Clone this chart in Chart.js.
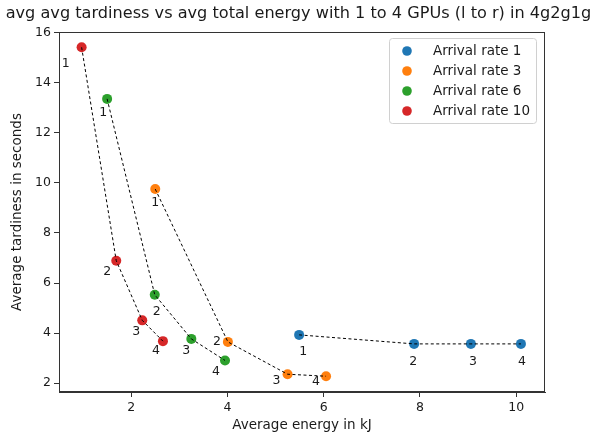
<!DOCTYPE html>
<html>
<head>
<meta charset="utf-8">
<script src="https://cdn.jsdelivr.net/npm/chart.js@4/dist/chart.umd.min.js"></script>
<style>
html,body{margin:0;padding:0;background:#fff;}
#wrap{width:597px;height:435px;position:relative;}
</style>
</head>
<body>
<div id="wrap"><canvas id="c" width="597" height="435"></canvas></div>
<script>
// ---- data ----
const chartTitle = 'avg avg tardiness vs avg total energy with 1 to 4 GPUs (l to r) in 4g2g1g';
const gpuCounts = ['1', '2', '3', '4'];
const seriesNames = ['Arrival rate 1', 'Arrival rate 3', 'Arrival rate 6', 'Arrival rate 10'];
const energyRate1  = [5.49, 7.88, 9.06, 10.10];
const tardRate1    = [3.93, 3.57, 3.57, 3.57];
const energyRate3  = [2.50, 4.01, 5.25, 6.05];
const tardRate3    = [9.75, 3.65, 2.36, 2.28];
const energyRate6  = [1.50, 2.49, 3.25, 3.95];
const tardRate6    = [13.35, 5.53, 3.77, 2.91];
const energyRate10 = [0.97, 1.69, 2.23, 2.66];
const tardRate10   = [15.41, 6.89, 4.51, 3.68];
const xTickValues = [2, 4, 6, 8, 10];
const yTickValues = [2, 4, 6, 8, 10, 12, 14, 16];

// ---- styles ----
const colors = ['#1f77b4', '#ff7f0e', '#2ca02c', '#d62728'];
// label offsets in pixels (dx, dy) relative to each point
const labelOffsets = [
  [[4, 17], [-1, 18], [2, 18], [1, 18]],
  [[0, 14], [-11, 0], [-11, 7], [-10, 6]],
  [[-4, 14], [2, 17], [-5, 12], [-9, 11]],
  [[-16, 16], [-9, 11], [-6, 11], [-7, 10]]
];

const energies = [energyRate1, energyRate3, energyRate6, energyRate10];
const tards = [tardRate1, tardRate3, tardRate6, tardRate10];
const toPts = (xs, ys) => xs.map((x, i) => ({x: x, y: ys[i]}));

const datasets = [];
seriesNames.forEach((name, s) => {
  datasets.push({
    label: name,
    data: toPts(energies[s], tards[s]),
    showLine: false,
    pointRadius: 5,
    pointHoverRadius: 5,
    pointBorderWidth: 0,
    backgroundColor: colors[s],
    borderColor: colors[s],
    order: 2
  });
});
seriesNames.forEach((name, s) => {
  datasets.push({
    label: '_line' + s,
    data: toPts(energies[s], tards[s]),
    showLine: true,
    pointRadius: 0,
    pointHoverRadius: 0,
    borderColor: '#000',
    borderWidth: 1,
    borderDash: [3, 2.5],
    fill: false,
    order: 1
  });
});

const FONT = "'DejaVu Sans', sans-serif";
const TXT = '#1a1a1a';

const framePlugin = {
  id: 'frame',
  afterDraw(chart) {
    const ctx = chart.ctx, a = chart.chartArea;
    ctx.save();
    ctx.strokeStyle = '#333';
    ctx.lineWidth = 1;
    ctx.strokeRect(Math.round(a.left) + 0.5, Math.round(a.top) + 0.5,
                   Math.round(a.right - a.left) - 1, Math.round(a.bottom - a.top) - 1);
    // title: sized to span the same width as the reference
    ctx.font = '16px ' + FONT;
    const w16 = ctx.measureText(chartTitle).width;
    const size = Math.min(17, 16 * 586 / w16);
    ctx.font = size.toFixed(2) + 'px ' + FONT;
    ctx.fillStyle = TXT;
    ctx.textAlign = 'center';
    ctx.textBaseline = 'middle';
    ctx.fillText(chartTitle, 298.5, 14);
    ctx.restore();
  }
};

const annotPlugin = {
  id: 'annot',
  afterDatasetsDraw(chart) {
    const ctx = chart.ctx;
    const xs = chart.scales.x, ys = chart.scales.y;
    ctx.save();
    ctx.font = '12.5px ' + FONT;
    ctx.fillStyle = TXT;
    ctx.textAlign = 'center';
    ctx.textBaseline = 'middle';
    seriesNames.forEach((n, s) => {
      energies[s].forEach((e, i) => {
        const px = xs.getPixelForValue(e) + labelOffsets[s][i][0];
        const py = ys.getPixelForValue(tards[s][i]) + labelOffsets[s][i][1];
        ctx.fillText(gpuCounts[i], px, py);
      });
    });
    ctx.restore();
  }
};

const legendPlugin = {
  id: 'mylegend',
  afterDraw(chart) {
    const ctx = chart.ctx;
    const a = chart.chartArea;
    const bx = a.right - 156, by = a.top + 6, bw = 147, bh = 85;
    ctx.save();
    ctx.fillStyle = 'rgba(255,255,255,0.8)';
    ctx.strokeStyle = '#d0d0d0';
    ctx.lineWidth = 1;
    const r = 3;
    ctx.beginPath();
    ctx.moveTo(bx + r + 0.5, by + 0.5);
    ctx.arcTo(bx + bw + 0.5, by + 0.5, bx + bw + 0.5, by + bh + 0.5, r);
    ctx.arcTo(bx + bw + 0.5, by + bh + 0.5, bx + 0.5, by + bh + 0.5, r);
    ctx.arcTo(bx + 0.5, by + bh + 0.5, bx + 0.5, by + 0.5, r);
    ctx.arcTo(bx + 0.5, by + 0.5, bx + bw + 0.5, by + 0.5, r);
    ctx.closePath();
    ctx.fill();
    ctx.stroke();
    ctx.font = '13.5px ' + FONT;
    ctx.textBaseline = 'middle';
    ctx.textAlign = 'left';
    seriesNames.forEach((n, s) => {
      const cy = by + 13 + s * 20;
      ctx.fillStyle = colors[s];
      ctx.beginPath();
      ctx.arc(bx + 18, cy, 4.8, 0, Math.PI * 2);
      ctx.fill();
      ctx.fillStyle = TXT;
      ctx.fillText(n, bx + 44, cy);
    });
    ctx.restore();
  }
};

new Chart(document.getElementById('c'), {
  type: 'scatter',
  data: {datasets: datasets},
  plugins: [framePlugin, annotPlugin, legendPlugin],
  options: {
    responsive: false,
    animation: false,
    devicePixelRatio: 1,
    layout: {padding: {left: 0, right: 52, top: 32, bottom: 0}},
    plugins: {
      legend: {display: false},
      tooltip: {enabled: false},
      title: {display: false}
    },
    scales: {
      x: {
        type: 'linear',
        min: 0.5,
        max: 10.6,
        afterBuildTicks(scale) { scale.ticks = xTickValues.map(v => ({value: v})); },
        afterFit(scale) { scale.height = 43; },
        ticks: {color: TXT, font: {family: FONT, size: 12.5}, padding: 3, maxRotation: 0},
        grid: {drawOnChartArea: false, drawTicks: true, tickLength: 5, tickColor: '#333', tickWidth: 1},
        border: {display: true, color: '#333', width: 1},
        title: {display: true, text: 'Average energy in kJ', color: TXT,
                font: {family: FONT, size: 13.5}, padding: {top: 2, bottom: 1}}
      },
      y: {
        type: 'linear',
        min: 1.65,
        max: 16.02,
        afterBuildTicks(scale) { scale.ticks = yTickValues.map(v => ({value: v})); },
        afterFit(scale) { scale.width = 59; },
        ticks: {color: TXT, font: {family: FONT, size: 12.5}, padding: 3},
        grid: {drawOnChartArea: false, drawTicks: true, tickLength: 5, tickColor: '#333', tickWidth: 1},
        border: {display: true, color: '#333', width: 1},
        title: {display: true, text: 'Average tardiness in seconds', color: TXT,
                font: {family: FONT, size: 13.5}, padding: {top: 9, bottom: 0}}
      }
    }
  }
});
</script>
</body>
</html>
